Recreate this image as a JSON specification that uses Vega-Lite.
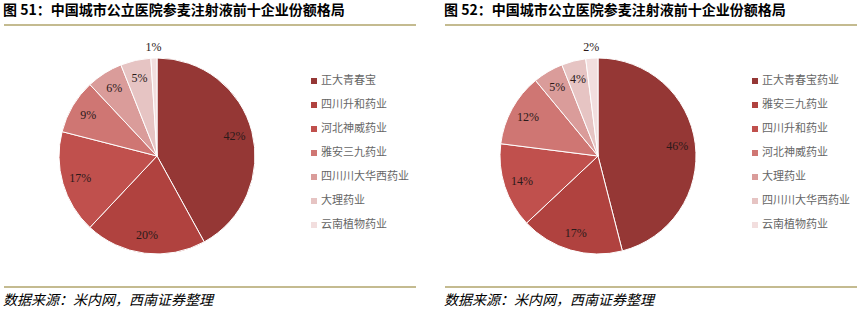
{
  "$schema": "https://vega.github.io/schema/vega-lite/v6.json",
  "background": "white",
  "padding": {"left": 3, "top": 4, "right": 0, "bottom": 0},
  "config": {"view": {"stroke": null}, "font": "Noto Sans CJK SC"},
  "datasets": {
    "p51": [
      {"rank": 1, "name": "正大青春宝", "value": 0.42},
      {"rank": 2, "name": "四川升和药业", "value": 0.20},
      {"rank": 3, "name": "河北神威药业", "value": 0.17},
      {"rank": 4, "name": "雅安三九药业", "value": 0.09},
      {"rank": 5, "name": "四川川大华西药业", "value": 0.06},
      {"rank": 6, "name": "大理药业", "value": 0.05},
      {"rank": 7, "name": "云南植物药业", "value": 0.01}
    ],
    "p52": [
      {"rank": 1, "name": "正大青春宝药业", "value": 0.46},
      {"rank": 2, "name": "雅安三九药业", "value": 0.17},
      {"rank": 3, "name": "四川升和药业", "value": 0.14},
      {"rank": 4, "name": "河北神威药业", "value": 0.12},
      {"rank": 5, "name": "大理药业", "value": 0.05},
      {"rank": 6, "name": "四川川大华西药业", "value": 0.04},
      {"rank": 7, "name": "云南植物药业", "value": 0.02}
    ],
    "line": [{"k": 1}]
  },
  "spacing": 27,
  "hconcat": [
    {
      "spacing": 0,
      "vconcat": [
        {
          "width": 412, "height": 1,
          "title": {"text": "图 51：中国城市公立医院参麦注射液前十企业份额格局", "anchor": "start", "fontSize": 14, "fontWeight": "bold", "color": "#000000", "offset": 6},
          "data": {"name": "line"},
          "mark": {"type": "rule", "color": "#c4bb90", "strokeWidth": 2},
          "encoding": {"y": {"datum": 0, "type": "quantitative", "scale": {"domain": [0, 1]}, "axis": null}}
        },
        {
          "spacing": 0,
          "hconcat": [
            {
              "width": 306, "height": 260,
              "data": {"name": "p51"},
              "encoding": {
                "theta": {"field": "value", "type": "quantitative", "stack": true},
                "order": {"field": "rank", "type": "quantitative", "sort": "ascending"},
                "detail": {"field": "rank", "type": "ordinal"}
              },
              "layer": [
                {
                  "mark": {"type": "arc", "outerRadius": 98, "stroke": "white", "strokeWidth": 1},
                  "encoding": {"color": {"field": "rank", "type": "ordinal", "legend": null, "scale": {"domain": [1, 2, 3, 4, 5, 6, 7], "range": ["#953735", "#b0423f", "#c0504d", "#cf7673", "#da9c9a", "#e6c4c3", "#f2dede"]}}}
                },
                {
                  "mark": {"type": "text", "radius": 80, "font": "Liberation Serif", "fontSize": 12, "color": "#2b1a1a"},
                  "encoding": {
                    "text": {"condition": {"test": "datum.value >= 0.03", "field": "value", "type": "quantitative", "format": ".0%"}, "value": ""}
                  }
                },
                {
                  "mark": {"type": "text", "radius": 109, "font": "Liberation Serif", "fontSize": 12, "color": "#2b1a1a"},
                  "encoding": {
                    "text": {"condition": {"test": "datum.value < 0.03", "field": "value", "type": "quantitative", "format": ".0%"}, "value": ""}
                  }
                }
              ]
            },
            {
              "width": 8, "height": 260,
              "data": {"name": "p51"},
              "encoding": {"y": {"field": "name", "type": "nominal", "sort": {"field": "rank", "op": "min", "order": "ascending"}, "scale": {"type": "point", "range": [55, 199], "padding": 0}, "axis": null}},
              "layer": [
                {
                  "mark": {"type": "square", "size": 36, "filled": true, "opacity": 1},
                  "encoding": {"color": {"field": "rank", "type": "ordinal", "legend": null, "scale": {"domain": [1, 2, 3, 4, 5, 6, 7], "range": ["#953735", "#b0423f", "#c0504d", "#cf7673", "#da9c9a", "#e6c4c3", "#f2dede"]}}}
                },
                {
                  "mark": {"type": "text", "align": "left", "dx": 7, "fontSize": 11, "color": "#666666"},
                  "encoding": {"text": {"field": "name", "type": "nominal"}}
                }
              ]
            }
          ]
        },
        {
          "width": 412, "height": 1,
          "title": {"text": "数据来源：米内网，西南证券整理", "orient": "bottom", "anchor": "start", "fontSize": 14, "fontStyle": "italic", "fontWeight": "normal", "color": "#000000", "offset": 6},
          "data": {"name": "line"},
          "mark": {"type": "rule", "color": "#c4bb90", "strokeWidth": 2},
          "encoding": {"y": {"datum": 1, "type": "quantitative", "scale": {"domain": [0, 1]}, "axis": null}}
        }
      ]
    },
    {
      "spacing": 0,
      "vconcat": [
        {
          "width": 412, "height": 1,
          "title": {"text": "图 52：中国城市公立医院参麦注射液前十企业份额格局", "anchor": "start", "fontSize": 14, "fontWeight": "bold", "color": "#000000", "offset": 6},
          "data": {"name": "line"},
          "mark": {"type": "rule", "color": "#c4bb90", "strokeWidth": 2},
          "encoding": {"y": {"datum": 0, "type": "quantitative", "scale": {"domain": [0, 1]}, "axis": null}}
        },
        {
          "spacing": 0,
          "hconcat": [
            {
              "width": 306, "height": 260,
              "data": {"name": "p52"},
              "encoding": {
                "theta": {"field": "value", "type": "quantitative", "stack": true},
                "order": {"field": "rank", "type": "quantitative", "sort": "ascending"},
                "detail": {"field": "rank", "type": "ordinal"}
              },
              "layer": [
                {
                  "mark": {"type": "arc", "outerRadius": 98, "stroke": "white", "strokeWidth": 1},
                  "encoding": {"color": {"field": "rank", "type": "ordinal", "legend": null, "scale": {"domain": [1, 2, 3, 4, 5, 6, 7], "range": ["#953735", "#b0423f", "#c0504d", "#cf7673", "#da9c9a", "#e6c4c3", "#f2dede"]}}}
                },
                {
                  "mark": {"type": "text", "radius": 80, "font": "Liberation Serif", "fontSize": 12, "color": "#2b1a1a"},
                  "encoding": {
                    "text": {"condition": {"test": "datum.value >= 0.03", "field": "value", "type": "quantitative", "format": ".0%"}, "value": ""}
                  }
                },
                {
                  "mark": {"type": "text", "radius": 109, "font": "Liberation Serif", "fontSize": 12, "color": "#2b1a1a"},
                  "encoding": {
                    "text": {"condition": {"test": "datum.value < 0.03", "field": "value", "type": "quantitative", "format": ".0%"}, "value": ""}
                  }
                }
              ]
            },
            {
              "width": 8, "height": 260,
              "data": {"name": "p52"},
              "encoding": {"y": {"field": "name", "type": "nominal", "sort": {"field": "rank", "op": "min", "order": "ascending"}, "scale": {"type": "point", "range": [55, 199], "padding": 0}, "axis": null}},
              "layer": [
                {
                  "mark": {"type": "square", "size": 36, "filled": true, "opacity": 1},
                  "encoding": {"color": {"field": "rank", "type": "ordinal", "legend": null, "scale": {"domain": [1, 2, 3, 4, 5, 6, 7], "range": ["#953735", "#b0423f", "#c0504d", "#cf7673", "#da9c9a", "#e6c4c3", "#f2dede"]}}}
                },
                {
                  "mark": {"type": "text", "align": "left", "dx": 7, "fontSize": 11, "color": "#666666"},
                  "encoding": {"text": {"field": "name", "type": "nominal"}}
                }
              ]
            }
          ]
        },
        {
          "width": 412, "height": 1,
          "title": {"text": "数据来源：米内网，西南证券整理", "orient": "bottom", "anchor": "start", "fontSize": 14, "fontStyle": "italic", "fontWeight": "normal", "color": "#000000", "offset": 6},
          "data": {"name": "line"},
          "mark": {"type": "rule", "color": "#c4bb90", "strokeWidth": 2},
          "encoding": {"y": {"datum": 1, "type": "quantitative", "scale": {"domain": [0, 1]}, "axis": null}}
        }
      ]
    }
  ]
}
